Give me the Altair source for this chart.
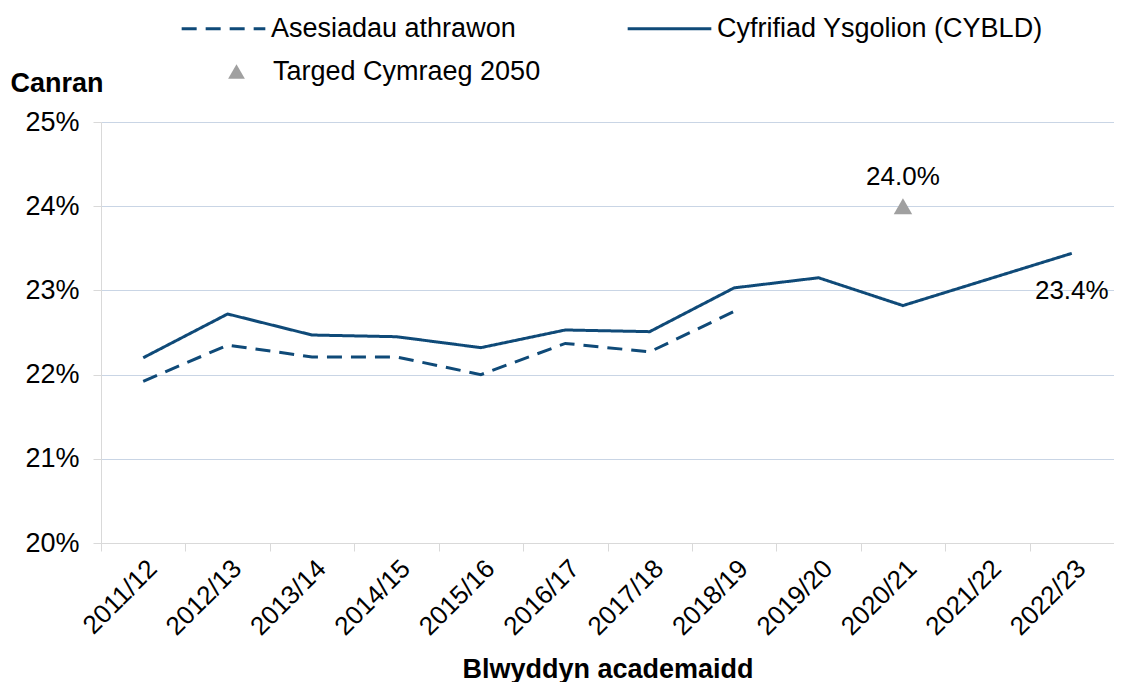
import altair as alt
import pandas as pd

years = ["2011/12", "2012/13", "2013/14", "2014/15", "2015/16", "2016/17",
         "2017/18", "2018/19", "2019/20", "2020/21", "2021/22", "2022/23"]
cybld = [22.20, 22.72, 22.47, 22.45, 22.32, 22.53, 22.51, 23.03, 23.15, 22.82, 23.13, 23.44]
athrawon = [21.92, 22.35, 22.21, 22.21, 22.00, 22.37, 22.27, 22.75]
target_years = ["2020/21"]
target_values = [24.0]
series_names = ["Asesiadau athrawon", "Cyfrifiad Ysgolion (CYBLD)", "Targed Cymraeg 2050"]

NAVY = "#0f4a78"
GREY = "#a0a0a0"
FONT = "Liberation Sans"
FS = 27

rows = []
for y, v in zip(years, athrawon):
    rows.append({"series": series_names[0], "year": y, "value": v})
for y, v in zip(years, cybld):
    rows.append({"series": series_names[1], "year": y, "value": v})
lines_df = pd.DataFrame(rows)

target_df = pd.DataFrame({"series": series_names[2], "year": target_years,
                          "value": target_values,
                          "label": [f"{v:.1f}%" for v in target_values]})
end_df = pd.DataFrame({"year": [years[-1]], "value": [cybld[-1]],
                       "label": [f"{cybld[-1]:.1f}%"]})

x_enc = alt.X("year:N", sort=years,
              scale=alt.Scale(domain=years, paddingInner=0, paddingOuter=0),
              axis=alt.Axis(title="Blwyddyn academaidd", tickBand="extent",
                            labelAngle=-45, labelFontSize=26, labelFont=FONT,
                            labelColor="#000000", labelPadding=4,
                            domainColor="#d9d9d9", tickColor="#d9d9d9",
                            tickSize=8, grid=False,
                            titleFont=FONT, titleFontSize=FS, titleFontWeight="bold",
                            titleColor="#000000", titleY=126, titleBaseline="middle"))

y_enc = alt.Y("value:Q",
              scale=alt.Scale(domain=[20, 25], nice=False, zero=False),
              axis=alt.Axis(title="Canran", values=[20, 21, 22, 23, 24, 25],
                            labelExpr="datum.value + '%'",
                            labelFontSize=FS, labelFont=FONT, labelColor="#000000",
                            labelPadding=14, tickSize=8, tickColor="#d9d9d9",
                            domainColor="#d9d9d9", gridColor="#c9d5e5",
                            titleAngle=0, titleAlign="left", titleX=-91, titleY=-39,
                            titleBaseline="middle", titleFont=FONT, titleFontSize=FS,
                            titleFontWeight="bold", titleColor="#000000"))

color_scale = alt.Scale(domain=series_names, range=[NAVY, NAVY, GREY])

line_legend = alt.Legend(
    title=None, orient="none", legendX=79, legendY=-137, columns=2,
    columnPadding=105, symbolType="stroke", symbolSize=7000,
    symbolStrokeWidth=3, symbolStrokeColor=NAVY,
    labelFontSize=FS, labelFont=FONT, labelColor="#000000",
    labelOffset=4, labelLimit=500,
)

shape_legend = alt.Legend(
    title=None, orient="none", legendX=122, legendY=-64,
    symbolSize=280, symbolFillColor=GREY, symbolStrokeWidth=0, symbolOpacity=1,
    labelFontSize=FS, labelFont=FONT, labelColor="#000000",
    labelOffset=23, labelLimit=500,
)

lines = alt.Chart(lines_df).mark_line(strokeWidth=3).encode(
    x=x_enc, y=y_enc,
    color=alt.Color("series:N", scale=color_scale, legend=None),
    strokeDash=alt.StrokeDash("series:N",
                              scale=alt.Scale(domain=series_names[:2], range=[[15, 9], [1, 0]]),
                              legend=line_legend),
    detail="series:N",
)

points = alt.Chart(target_df).mark_point(filled=True, size=340, opacity=1).encode(
    x=alt.X("year:N", sort=years), y="value:Q",
    color=alt.Color("series:N", scale=color_scale, legend=None),
    shape=alt.Shape("series:N", scale=alt.Scale(domain=[series_names[2]], range=["triangle-up"]),
                    legend=shape_legend),
)

target_text = alt.Chart(target_df).mark_text(dy=-29, fontSize=26, font=FONT, color="#000000").encode(
    x=alt.X("year:N", sort=years), y="value:Q", text="label:N")

end_text = alt.Chart(end_df).mark_text(dy=38, fontSize=26, font=FONT, color="#000000").encode(
    x=alt.X("year:N", sort=years), y="value:Q", text="label:N")

chart = alt.layer(lines, points, target_text, end_text).resolve_scale(
    strokeDash="independent", shape="independent"
).properties(
    width=1013, height=421,
    autosize=alt.AutoSizeParams(type="none"),
    padding={"left": 93, "top": 114, "right": 0, "bottom": 139},
).configure_view(stroke=None)

chart.save("out.html", embed_options={"renderer": "svg", "actions": False})
